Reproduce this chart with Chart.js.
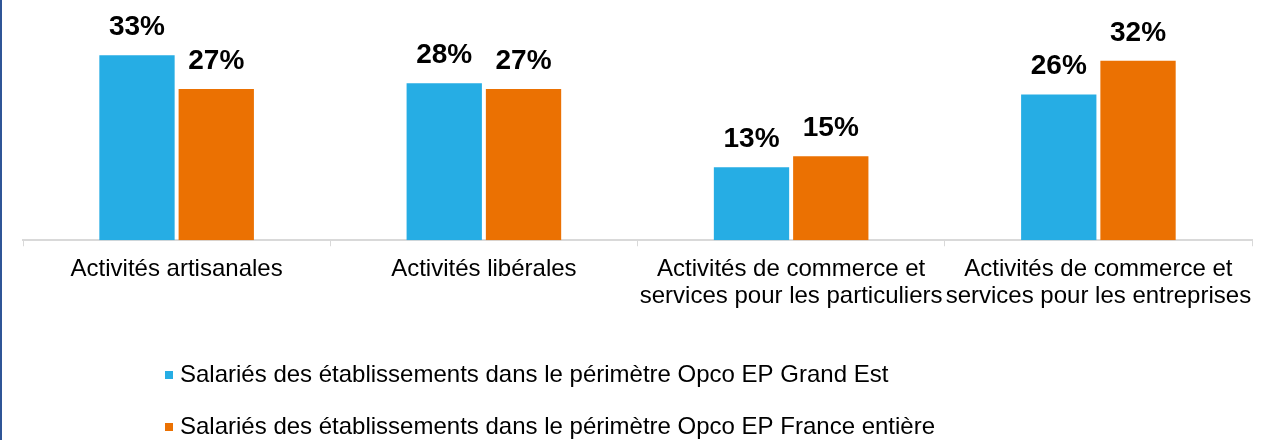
<!DOCTYPE html>
<html>
<head>
<meta charset="utf-8">
<script src="https://cdn.jsdelivr.net/npm/chart.js@4"></script>
<style>
  body { margin: 0; background: #fff; }
  .wrap { position: relative; width: 1262px; height: 440px; }
  .edge { position: absolute; left: 0; top: 0; width: 2px; height: 440px; background: #2f5597; }
</style>
</head>
<body>
<div class="wrap">
  <canvas id="chart-bar" width="1262" height="440"></canvas>
  <div class="edge"></div>
</div>
<script>
// Data
const categories = [
  ['Activités artisanales'],
  ['Activités libérales'],
  ['Activités de commerce et', 'services pour les particuliers'],
  ['Activités de commerce et', 'services pour les entreprises']
];
const seriesNames = [
  'Salariés des établissements dans le périmètre Opco EP Grand Est',
  'Salariés des établissements dans le périmètre Opco EP France entière'
];
const grandEst = [33, 28, 13, 26];
const franceEntiere = [27, 27, 15, 32];
const seriesColors = ['#26ade4', '#eb7102'];

const fontFamily = '"Liberation Sans", Arial, sans-serif';

// Value labels above the bars
const valueLabels = {
  id: 'valueLabels',
  afterDatasetsDraw(chart) {
    const ctx = chart.ctx;
    ctx.save();
    ctx.font = 'bold 28px ' + fontFamily;
    ctx.fillStyle = '#000';
    ctx.textAlign = 'center';
    ctx.textBaseline = 'alphabetic';
    chart.data.datasets.forEach((ds, i) => {
      chart.getDatasetMeta(i).data.forEach((bar, j) => {
        ctx.fillText(ds.data[j] + '%', bar.x, bar.y - 20);
      });
    });
    ctx.restore();
  }
};

// Legend stacked at the bottom left
const stackedLegend = {
  id: 'stackedLegend',
  afterDraw(chart) {
    const ctx = chart.ctx;
    ctx.save();
    ctx.font = '24px ' + fontFamily;
    ctx.textBaseline = 'middle';
    chart.data.datasets.forEach((ds, i) => {
      const y = 375 + i * 52;
      ctx.fillStyle = ds.backgroundColor;
      ctx.fillRect(165, y - 4, 8, 8);
      ctx.fillStyle = '#000';
      ctx.fillText(ds.label, 180, y);
    });
    ctx.restore();
  }
};

const barChart = document.getElementById('chart-bar').getContext('2d');
const myBarChart = new Chart(barChart, {
  type: 'bar',
  data: {
    labels: categories,
    datasets: [{
      label: seriesNames[0],
      data: grandEst,
      backgroundColor: seriesColors[0],
      categoryPercentage: 0.516,
      barPercentage: 0.95
    }, {
      label: seriesNames[1],
      data: franceEntiere,
      backgroundColor: seriesColors[1],
      categoryPercentage: 0.516,
      barPercentage: 0.95
    }]
  },
  options: {
    responsive: false,
    animation: false,
    layout: {
      padding: { left: 23, right: 7, top: 16, bottom: 120 }
    },
    plugins: {
      legend: { display: false },
      tooltip: { enabled: false }
    },
    scales: {
      x: {
        grid: {
          drawOnChartArea: false,
          drawTicks: true,
          tickLength: 6,
          color: '#d9d9d9'
        },
        border: { display: true, color: '#d9d9d9', width: 2 },
        ticks: {
          padding: 10,
          maxRotation: 0,
          autoSkip: false,
          color: '#000',
          font: { family: fontFamily, size: 24, lineHeight: 1.12 }
        }
      },
      y: {
        display: false,
        min: 0,
        max: 40
      }
    }
  },
  plugins: [valueLabels, stackedLegend]
});
</script>
</body>
</html>
